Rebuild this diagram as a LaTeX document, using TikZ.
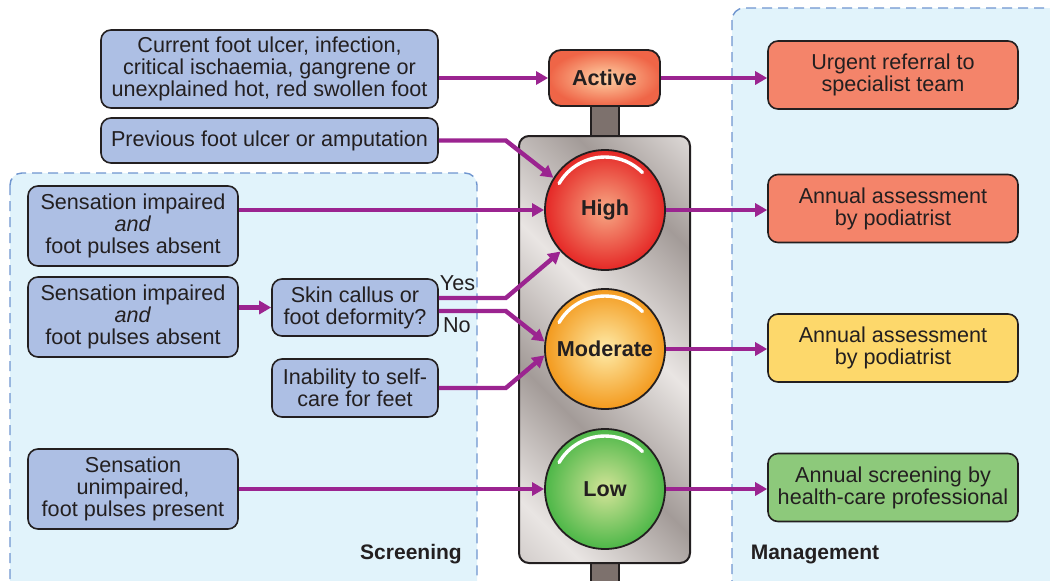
\documentclass[tikz,border=0pt]{standalone}
\usepackage{fontspec}
\setmainfont{Liberation Sans}
\usetikzlibrary{arrows.meta,positioning}
\definecolor{ink}{HTML}{231F20}
\definecolor{cbox}{HTML}{ADBFE4}
\definecolor{cpanel}{HTML}{E1F3FB}
\definecolor{cdash}{HTML}{6F95CF}
\definecolor{carr}{HTML}{9B2490}
\definecolor{csalmon}{HTML}{F4846A}
\definecolor{cyellow}{HTML}{FDD86B}
\definecolor{cgreen}{HTML}{8DC97B}
\definecolor{cpole}{HTML}{7D716D}
\definecolor{mdark}{HTML}{A39B98}
\definecolor{mlight}{HTML}{E9E5E3}
\pgfdeclarehorizontalshading{metal}{100bp}{color(0bp)=(mdark); color(22bp)=(mlight);
  color(38bp)=(mdark); color(55bp)=(mlight); color(72bp)=(mdark); color(88bp)=(mlight);
  color(100bp)=(mdark)}
\tikzset{
  txt/.style={font=\fontsize{10.8}{11}\selectfont,text=ink},
  inbox/.style={rectangle,rounded corners=5pt,draw=ink,line width=0.8pt,fill=cbox,
    align=center,inner sep=2pt,txt},
  outbox/.style={inbox,minimum width=125pt,minimum height=34pt},
  % traffic light parts
  lamp/.style={circle,draw=ink,line width=0.9pt,minimum size=60pt,inner sep=0pt,
    font=\bfseries\fontsize{10.8}{12}\selectfont,text=ink},
  gleam/.style={white,line width=1.7pt,line cap=round},
  housing/.style={draw=ink,line width=1pt,rounded corners=5pt,shading=metal,shading angle=45},
  pole/.style={draw=ink,line width=0.9pt,fill=cpole},
  panel/.style={draw=cdash,dash pattern=on 5pt off 3pt,fill=cpanel,rounded corners=6pt,
    line width=0.7pt},
  panlab/.style={font=\bfseries\fontsize{10.5}{12}\selectfont,text=ink},
  arr/.style={-{Triangle[length=6pt,width=6.5pt]},line width=2.2pt,carr}
}
\begin{document}
\begin{tikzpicture}[x=0.5pt,y=-0.5pt]
  \clip (0,0) rectangle (1050,580);
  % panels
  \draw[panel] (10,173) rectangle (477,600);
  \draw[panel] (732,8) rectangle (1070,600);
  \node[panlab] (scrlab) at (411,554) {Screening};
  \node[panlab] (manlab) at (815,554) {Management};
  % traffic light
  \draw[pole] (591,100) rectangle (619,140);
  \draw[pole] (591,560) rectangle (619,590);
  \draw[housing] (519,136) rectangle (690,563);
  \node[rectangle,rounded corners=6pt,draw=ink,line width=0.9pt,minimum width=55.5pt,
    minimum height=28pt,inner color=orange!35!white,outer color={rgb,255:red,239;green,101;blue,71},
    font=\bfseries\fontsize{10.8}{12}\selectfont,text=ink] (active) at (604.5,78) {Active};
  \node[lamp,inner color={rgb,255:red,247;green,168;blue,132},outer color={rgb,255:red,229;green,40;blue,38}] (high) at (605,210) {High};
  \node[lamp,inner color={rgb,255:red,254;green,235;blue,168},outer color={rgb,255:red,243;green,154;blue,30}] (mod) at (605,349) {Moderate};
  \node[lamp,inner color={rgb,255:red,211;green,228;blue,152},outer color={rgb,255:red,77;green,183;blue,72}] (low) at (605,489) {Low};
  \foreach \l in {high,mod,low}
    \draw[gleam] ([shift={(150:26.5pt)}]\l.center) arc[start angle=150,end angle=45,radius=26.5pt];
  % risk factors
  \node[inbox,minimum width=168.5pt,minimum height=39pt] (ulcer) at (269.5,69)
    {Current foot ulcer, infection,\\critical ischaemia, gangrene or\\unexplained hot, red swollen foot};
  \node[inbox,minimum width=168.5pt,minimum height=22.5pt] (prev) at (269.5,140.5)
    {Previous foot ulcer or amputation};
  \node[inbox,minimum width=105pt,minimum height=40pt] (sensA) at (133,226)
    {Sensation impaired\\\textit{and}\\foot pulses absent};
  \node[inbox,minimum width=105pt,minimum height=40pt] (sensB) at (133,317)
    {Sensation impaired\\\textit{and}\\foot pulses absent};
  \node[inbox,minimum width=83pt,minimum height=28.5pt] (skin) at (355,307.5)
    {Skin callus or\\foot deformity?};
  \node[inbox,minimum width=83pt,minimum height=29pt] (self) at (355,388)
    {Inability to self-\\care for feet};
  \node[inbox,minimum width=105pt,minimum height=40pt] (sensok) at (133,489)
    {Sensation\\unimpaired,\\foot pulses present};
  % management
  \node[outbox,fill=csalmon,minimum height=34pt] (urgent) at (893,75) {Urgent referral to\\specialist team};
  \node[outbox,fill=csalmon] (annH) at (893,208.5) {Annual assessment\\by podiatrist};
  \node[outbox,fill=cyellow] (annM) at (893,348) {Annual assessment\\by podiatrist};
  \node[outbox,fill=cgreen] (annL) at (893,487.5) {Annual screening by\\health-care professional};
  % connectors
  \draw[arr] (ulcer.east |- active.west) -- (active.west);
  \draw[arr] (active.east) -- (active.east -| urgent.west);
  \draw[arr] (prev.east) -- ++(67,0) -- (high.148);
  \draw[arr] (sensA.east |- high.west) -- (high.west);
  \draw[arr] (high.east) -- (high.east -| annH.west);
  \draw[arr] (sensB.east |- skin.west) -- (skin.west);
  \draw[arr] ([yshift=4.75pt]skin.east) -- node[txt,pos=.28,above=-1pt]{Yes} ++(67,0) -- (high.223);
  \draw[arr] ([yshift=-1.75pt]skin.east) -- node[txt,pos=.27,below=-1pt]{No} ++(67,0) -- (mod.173);
  \draw[arr] (self.east) -- ++(67,0) -- (mod.186);
  \draw[arr] (mod.east) -- (mod.east -| annM.west);
  \draw[arr] (sensok.east |- low.west) -- (low.west);
  \draw[arr] (low.east) -- (low.east -| annL.west);
\end{tikzpicture}
\end{document}
